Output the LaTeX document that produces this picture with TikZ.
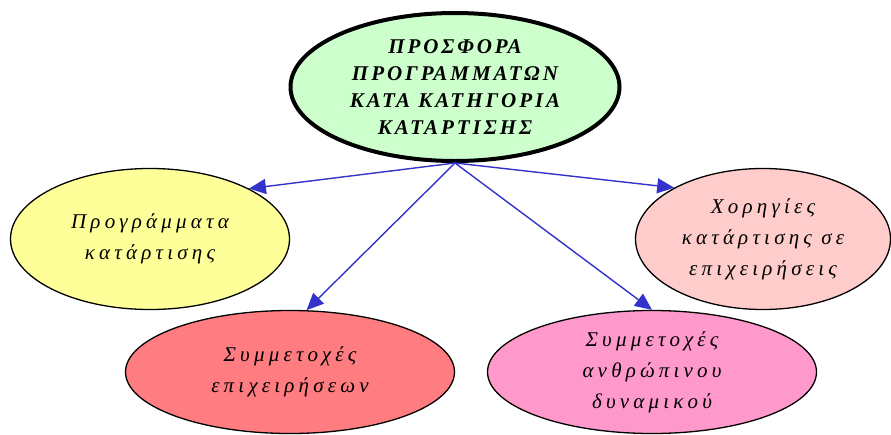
\documentclass[tikz,border=0pt]{standalone}
\usepackage{fontspec}
\usetikzlibrary{shapes.geometric,arrows.meta}
\setmainfont{Liberation Serif}
\newfontfamily\topfont[LetterSpace=14]{Liberation Serif}
\newfontfamily\lowfont[LetterSpace=20]{Liberation Serif}
\definecolor{topfill}{HTML}{CCFFCC}
\definecolor{yel}{HTML}{FFFF99}
\definecolor{redf}{HTML}{FF7C80}
\definecolor{lpink}{HTML}{FFCCCC}
\definecolor{pinkf}{HTML}{FF99CC}
\definecolor{arr}{HTML}{3333CC}
\tikzset{
  oval/.style={ellipse, draw=black, line width=1.3pt, inner sep=0pt, align=center,
    font=\lowfont\itshape\fontsize{21}{31}\selectfont},
  topoval/.style={ellipse, draw=black, line width=4pt, inner sep=0pt, align=center,
    fill=topfill, font=\topfont\bfseries\itshape\fontsize{21}{27}\selectfont},
  link/.style={draw=arr, line width=1.4pt, -{Triangle[length=17pt,width=15pt]}}
}
\begin{document}
\begin{tikzpicture}[x=1pt,y=-1pt]
\useasboundingbox (0,0) rectangle (891,434);
\node[topoval, minimum width=329pt, minimum height=148pt] (top) at (455,87)
  {ΠΡΟΣΦΟΡΑ\\ΠΡΟΓΡΑΜΜΑΤΩΝ\\ΚΑΤΑ ΚΑΤΗΓΟΡΙΑ\\ΚΑΤΑΡΤΙΣΗΣ};
\node[oval, fill=yel, minimum width=279pt, minimum height=141pt] (yel) at (150,239)
  {Προγράμματα\\κατάρτισης};
\node[oval, fill=lpink, minimum width=255pt, minimum height=141pt] (hor) at (763,239)
  {Χορηγίες\\κατάρτισης σε\\επιχειρήσεις};
\node[oval, fill=redf, minimum width=329pt, minimum height=123pt] (red) at (290,372)
  {Συμμετοχές\\επιχειρήσεων};
\node[oval, fill=pinkf, minimum width=329pt, minimum height=123pt] (pink) at (652,372)
  {Συμμετοχές\\ανθρώπινου\\δυναμικού};
\draw[link] (top.south) -- (yel.27);
\draw[link] (top.south) -- (hor.150);
\draw[link] (top.south) -- (red.75);
\draw[link] (top.south) -- (pink.north);
\end{tikzpicture}
\end{document}
